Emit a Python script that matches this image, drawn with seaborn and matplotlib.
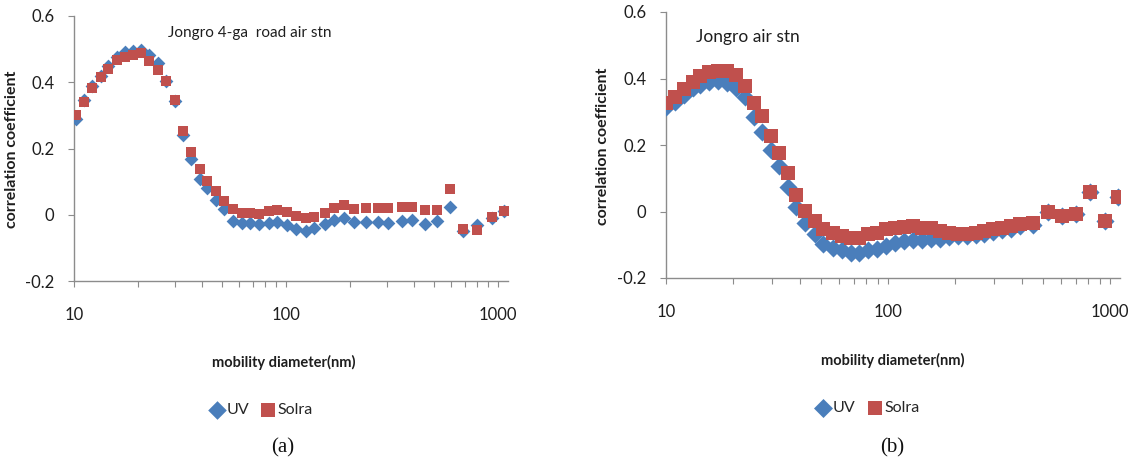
import numpy as np
import pandas as pd
import matplotlib
matplotlib.use("Agg")
import matplotlib.pyplot as plt
import seaborn as sns
from matplotlib.ticker import LogLocator, FixedLocator, NullFormatter

# ── Data ──────────────────────────────────────────────────────────────
# (a) Jongro 4-ga road air stn
diam_a = [10.2, 11.2, 12.2, 13.4, 14.5, 15.9, 17.4, 18.9, 20.6, 22.5,
          24.9, 27.3, 29.9, 32.5, 35.5, 39.3, 42.6, 46.6, 51.1, 56.2,
          62.0, 67.9, 74.4, 83, 91, 100.6, 112, 124, 135, 153,
          169, 188, 210, 239, 272, 304, 351, 395, 451, 518,
          593, 686, 800, 935, 1073]
uv_a = [0.29, 0.345, 0.39, 0.42, 0.45, 0.475, 0.492, 0.495, 0.497, 0.482,
        0.459, 0.404, 0.343, 0.242, 0.168, 0.107, 0.082, 0.045, 0.016, -0.019,
        -0.024, -0.024, -0.029, -0.024, -0.021, -0.031, -0.043, -0.048, -0.040, -0.029,
        -0.017, -0.011, -0.021, -0.021, -0.021, -0.024, -0.019, -0.017, -0.027, -0.019,
        0.024, -0.050, -0.030, -0.011, 0.011]
solra_a = [0.30, 0.34, 0.384, 0.416, 0.44, 0.467, 0.475, 0.482, 0.487, 0.465,
           0.437, 0.404, 0.345, 0.254, 0.188, 0.138, 0.102, 0.072, 0.042, 0.016,
           0.006, 0.006, 0.001, 0.011, 0.014, 0.009, -0.004, -0.009, -0.007, 0.006,
           0.021, 0.028, 0.016, 0.021, 0.021, 0.021, 0.023, 0.023, 0.014, 0.014,
           0.077, -0.043, -0.045, -0.007, 0.011]

# (b) Jongro air stn
diam_b = [10.0, 11.0, 12.0, 13.2, 14.3, 15.7, 17.1, 18.8, 20.6, 22.6,
          24.8, 27.2, 29.7, 32.4, 35.3, 38.5, 42.5, 46.7, 51.2, 56.3,
          61.8, 67.8, 74.4, 81.6, 89.5, 98.2, 107.7, 118, 130, 142,
          156, 171, 188, 206, 226, 248, 272, 298, 327, 359,
          394, 450, 525, 610, 700, 815, 950, 1090]
uv_b = [0.315, 0.33, 0.35, 0.37, 0.38, 0.39, 0.393, 0.385, 0.37, 0.345,
        0.285, 0.24, 0.186, 0.136, 0.075, 0.015, -0.034, -0.069, -0.099, -0.109,
        -0.117, -0.124, -0.125, -0.115, -0.113, -0.104, -0.094, -0.089, -0.087, -0.085,
        -0.084, -0.083, -0.078, -0.075, -0.075, -0.072, -0.067, -0.062, -0.057, -0.052,
        -0.045, -0.040, 0.0, -0.015, -0.008, 0.06, -0.03, 0.045]
solra_b = [0.327, 0.344, 0.367, 0.39, 0.407, 0.419, 0.424, 0.422, 0.41, 0.377,
           0.327, 0.287, 0.226, 0.176, 0.116, 0.051, 0.001, -0.029, -0.054, -0.064,
           -0.074, -0.081, -0.081, -0.069, -0.064, -0.054, -0.049, -0.047, -0.044, -0.049,
           -0.051, -0.059, -0.064, -0.067, -0.067, -0.064, -0.059, -0.054, -0.049, -0.044,
           -0.037, -0.035, 0.0, -0.015, -0.008, 0.06, -0.03, 0.045]

y_ticks = [-0.2, 0, 0.2, 0.4, 0.6]
y_ticklabels = ["-0.2", "0", "0.2", "0.4", "0.6"]
x_ticks = [10, 100, 1000]
x_ticklabels = ["10", "100", "1000"]

# ── Style ─────────────────────────────────────────────────────────────
sns.set_theme(style="white")
plt.rcParams["font.family"] = ["Lato", "DejaVu Sans"]

BLUE = "#4A7EBB"
RED = "#C0504D"
AXC = "#8c8c8c"
TXT = "#1e1e1e"

fig = plt.figure(figsize=(11.37, 4.68), dpi=100)
fig.patch.set_facecolor("white")

ax_a = fig.add_axes([74 / 1137, 1 - 281 / 468, 434 / 1137, 265 / 468])
ax_b = fig.add_axes([666 / 1137, 1 - 278 / 468, 454 / 1137, 266 / 468])


def draw_panel(ax, diam, uv, solra, title, title_xy, title_size, xmax,
               msize, mscale):
    df = pd.DataFrame({"d": diam, "UV": uv, "Solra": solra})
    sns.scatterplot(data=df, x="d", y="UV", marker="D", color=BLUE,
                    s=msize * 0.85, linewidth=0, ax=ax, label="UV", zorder=3)
    sns.scatterplot(data=df, x="d", y="Solra", marker="s", color=RED,
                    s=msize, linewidth=0, ax=ax, label="Solra", zorder=4)
    ax.set_xscale("log")
    ax.set_xlim(10, xmax)
    ax.set_ylim(-0.2, 0.6)

    ax.set_yticks(y_ticks)
    ax.set_yticklabels(y_ticklabels)
    ax.xaxis.set_major_locator(FixedLocator(x_ticks))
    ax.set_xticklabels(x_ticklabels)
    ax.xaxis.set_minor_locator(LogLocator(base=10, subs=np.arange(2, 10)))
    ax.xaxis.set_minor_formatter(NullFormatter())

    for side in ["top", "right"]:
        ax.spines[side].set_visible(False)
    for side in ["left", "bottom"]:
        ax.spines[side].set_color(AXC)
        ax.spines[side].set_linewidth(1.0)

    ax.tick_params(axis="y", which="major", direction="out", length=4,
                   width=0.8, color=AXC, pad=10, labelsize=12,
                   labelcolor=TXT, left=True)
    ax.tick_params(axis="x", which="both", direction="out", length=4,
                   width=0.8, color=AXC, pad=15, labelsize=12,
                   labelcolor=TXT, bottom=True)

    ax.set_xlabel("mobility diameter(nm)", fontsize=10.5, fontweight="bold",
                  color=TXT)
    ax.set_ylabel("correlation coefficient", fontsize=11.5, fontweight="bold",
                  color=TXT)
    ax.text(title_xy[0], title_xy[1], title, transform=ax.transAxes,
            fontsize=title_size, ha="left", va="center", color=TXT)

    ax.legend(loc="center", ncol=2, frameon=False, fontsize=11.5,
              handletextpad=-0.1, columnspacing=0.5, handlelength=1.4,
              markerscale=mscale, borderaxespad=0)
    ax.grid(False)


draw_panel(ax_a, diam_a, uv_a, solra_a, "Jongro 4-ga  road air stn",
           (0.2166, 0.936), 11, 1115, 58, 1.35)
draw_panel(ax_b, diam_b, uv_b, solra_b, "Jongro air stn",
           (0.066, 0.906), 12.5, 1110, 100, 1.05)

ax_a.xaxis.set_label_coords(0.484, -0.279)
ax_a.yaxis.set_label_coords(-0.127, 0.498)
ax_a.get_legend().set_bbox_to_anchor((0.427, -0.487), transform=ax_a.transAxes)

ax_b.xaxis.set_label_coords(0.50, -0.282)
ax_b.yaxis.set_label_coords(-0.124, 0.496)
ax_b.get_legend().set_bbox_to_anchor((0.44, -0.489), transform=ax_b.transAxes)

# panel captions
fig.text(283 / 1137, 1 - 448 / 468, "(a)", ha="center", va="center",
         fontsize=15, family="Liberation Serif", color="#111111")
fig.text(892 / 1137, 1 - 448 / 468, "(b)", ha="center", va="center",
         fontsize=15, family="Liberation Serif", color="#111111")

fig.savefig("out.png", dpi=100, facecolor="white")
